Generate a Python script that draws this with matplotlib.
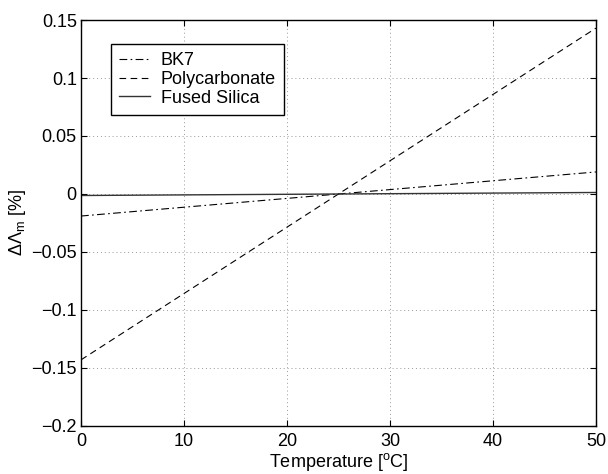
import numpy as np
import matplotlib
matplotlib.use("Agg")
import matplotlib.pyplot as plt

plt.rcParams['font.family'] = ['Liberation Sans', 'DejaVu Sans']
plt.rcParams['mathtext.fontset'] = 'custom'
plt.rcParams['mathtext.rm'] = 'Liberation Sans'
plt.rcParams['mathtext.it'] = 'Liberation Sans'

# Relative change of the grating period vs temperature (reference at 25 C)
temperature = [0, 50]
bk7 = [-0.019, 0.019]
polycarbonate = [-0.143, 0.143]
fused_silica = [-0.0013, 0.0013]

x_ticks = [0, 10, 20, 30, 40, 50]
y_ticks = [-0.2, -0.15, -0.1, -0.05, 0, 0.05, 0.1, 0.15]
y_tick_labels = ['\u22120.2', '\u22120.15', '\u22120.1', '\u22120.05', '0', '0.05', '0.1', '0.15']

FS = 13

fig = plt.figure(figsize=(6.08, 4.74), dpi=100)
ax = fig.add_axes([0.1332, 0.1013, 0.8470, 0.8565])

ax.plot(temperature, bk7, color='black', lw=0.8, linestyle=(0, (7, 3, 1.5, 3)), label='BK7')
ax.plot(temperature, polycarbonate, color='black', lw=0.8, linestyle=(0, (6, 4)), label='Polycarbonate')
ax.plot(temperature, fused_silica, color='#333333', lw=1.0, linestyle='-', label='Fused Silica')

ax.set_xlim(0, 50)
ax.set_ylim(-0.2, 0.15)
ax.set_xticks(x_ticks)
ax.set_yticks(y_ticks)
ax.set_yticklabels(y_tick_labels)
ax.tick_params(direction='in', length=4, width=0.8, labelsize=FS, top=True, right=True)
ax.tick_params(axis='x', pad=5)
ax.tick_params(axis='y', pad=3)
for s in ax.spines.values():
    s.set_linewidth(1.0)

ax.grid(True, color='#999999', linestyle=(0, (1, 3)), linewidth=0.7)

ax.set_xlabel('Temperature [$^{\\rm o}$C]', fontsize=FS, labelpad=1)
ax.set_ylabel('$\\Delta\\Lambda_{\\rm m}$ [%]', fontsize=FS, labelpad=2)

leg = ax.legend(loc='upper left', bbox_to_anchor=(0.058, 0.941), borderaxespad=0, fontsize=FS,
                frameon=True, fancybox=False, edgecolor='black', handlelength=1.7,
                borderpad=0.45, labelspacing=0.1, handletextpad=0.6, framealpha=1)
leg.get_frame().set_linewidth(1.0)

fig.savefig('out.png', dpi=100)
